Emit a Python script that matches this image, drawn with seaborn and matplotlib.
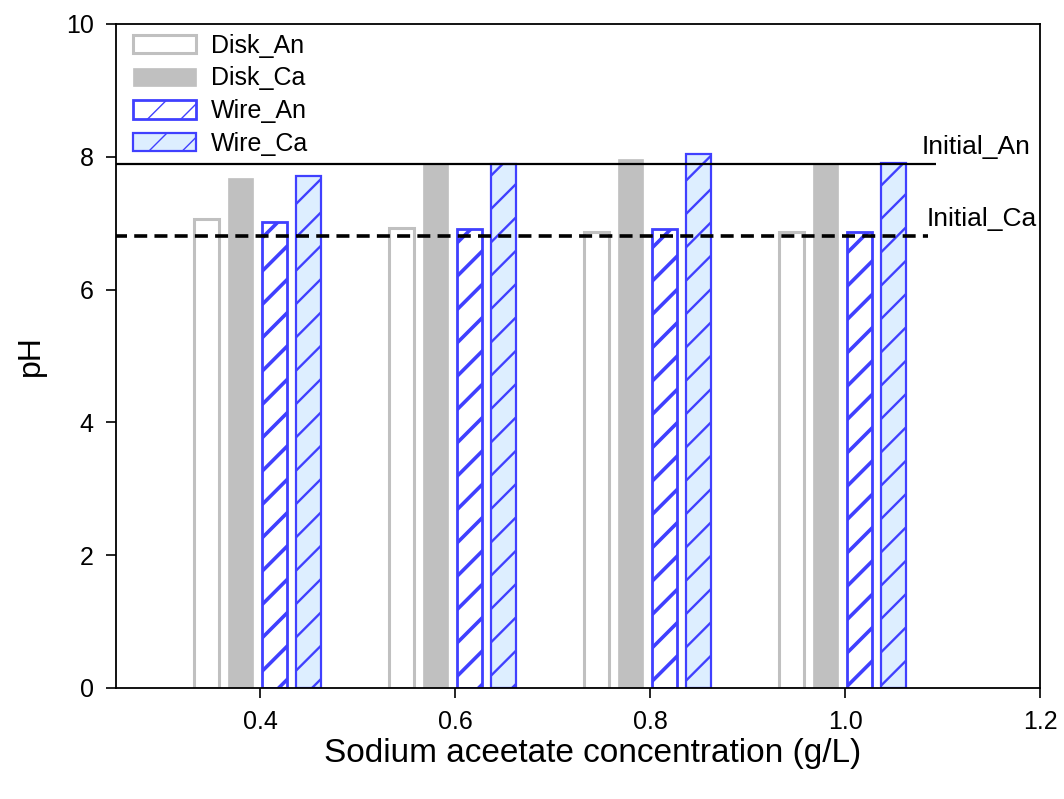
import matplotlib
matplotlib.use("Agg")
import matplotlib.pyplot as plt
import seaborn as sns
import pandas as pd

# Sodium acetate concentration (g/L)
concentrations = [0.4, 0.6, 0.8, 1.0]
series_names = ["Disk_An", "Disk_Ca", "Wire_An", "Wire_Ca"]

# Final pH per electrode configuration
disk_an = [7.06, 6.93, 6.87, 6.87]
disk_ca = [7.68, 7.89, 7.97, 7.89]
wire_an = [7.01, 6.91, 6.91, 6.87]
wire_ca = [7.71, 7.89, 8.04, 7.91]

# Initial pH levels
initial_an = 7.89
initial_ca = 6.81

rows = []
for name, vals in zip(series_names, [disk_an, disk_ca, wire_an, wire_ca]):
    for c, v in zip(concentrations, vals):
        rows.append({"conc": c, "pH": v, "series": name})
df = pd.DataFrame(rows)

sns.set_theme(style="white")
plt.rcParams["font.family"] = ["Liberation Sans", "DejaVu Sans"]
plt.rcParams["text.color"] = "black"
plt.rcParams["axes.labelcolor"] = "black"

fig = plt.figure(figsize=(10.64, 7.99), dpi=100)
ax = fig.add_axes([0.109, 0.139, 0.8684, 0.831])

sns.barplot(data=df, x="conc", y="pH", hue="series", hue_order=series_names,
            native_scale=True, width=0.7, gap=0.27, dodge=True,
            palette=["white"] * 4, legend=False, errorbar=None, ax=ax)

gray = "#C0C0C0"
blue = "#4040FF"
styles = {
    "Disk_An": dict(fc="white", ec=gray, lw=2.2, hatch=None, hlw=1.0),
    "Disk_Ca": dict(fc=gray, ec=gray, lw=0.5, hatch=None, hlw=1.0),
    "Wire_An": dict(fc="white", ec=blue, lw=2.0, hatch="/", hlw=2.6),
    "Wire_Ca": dict(fc="#DDEEFF", ec=blue, lw=1.6, hatch="/", hlw=1.7),
}
group_shift = -0.0028  # small leftward offset of each bar group
for cont, name in zip(ax.containers, series_names):
    st = styles[name]
    for p in cont.patches:
        p.set_x(p.get_x() + group_shift)
        p.set_facecolor(st["fc"])
        p.set_edgecolor(st["ec"])
        p.set_linewidth(st["lw"])
        if st["hatch"]:
            p.set_hatch(st["hatch"])
            if hasattr(p, "set_hatch_linewidth"):
                p.set_hatch_linewidth(st["hlw"])
        p.set_zorder(2)

# Initial pH reference lines
ax.hlines(initial_an, 0.25, 1.093, colors="black", linewidth=1.6, zorder=3)
ax.hlines(initial_ca, 0.25, 1.085, colors="black", linewidth=2.6,
          linestyles=(0, (3.6, 2.0)), zorder=3)
ax.text(1.079, initial_an + 0.07, "Initial_An", fontsize=19, ha="left", va="bottom")
ax.text(1.084, initial_ca + 0.07, "Initial_Ca", fontsize=19, ha="left", va="bottom")

ax.set_xlim(0.252, 1.2)
ax.set_ylim(0, 10)
ax.set_xticks([0.4, 0.6, 0.8, 1.0, 1.2])
ax.set_xticklabels(["0.4", "0.6", "0.8", "1.0", "1.2"])
ax.set_yticks([0, 2, 4, 6, 8, 10])
ax.set_yticklabels(["0", "2", "4", "6", "8", "10"])
ax.tick_params(axis="both", direction="out", length=7, width=1.2,
               labelsize=18, colors="black", bottom=True, left=True, pad=9)
ax.set_xlabel("Sodium aceetate concentration (g/L)", fontsize=24, labelpad=5)
ax.xaxis.set_label_coords(0.516, -0.075)
ax.set_ylabel("pH", fontsize=23, labelpad=14)
for s in ax.spines.values():
    s.set_color("black")
    s.set_linewidth(1.3)
ax.grid(False)

handles = [cont.patches[0] for cont in ax.containers]
ax.legend(handles, series_names, loc="upper left", frameon=False, fontsize=18,
          handlelength=2.5, handleheight=0.75, labelspacing=0.35,
          handletextpad=0.6, borderaxespad=0.15, bbox_to_anchor=(0.004, 1.006))

fig.savefig("out.png", dpi=100)
